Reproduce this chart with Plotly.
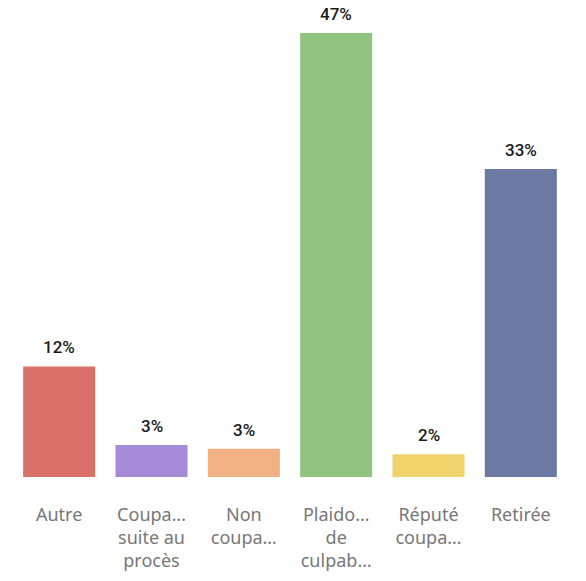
import plotly.graph_objects as go

categories = ["Autre", "Coupa…<br>suite au<br>procès", "Non<br>coupa…", "Plaido…<br>de<br>culpab…", "Réputé<br>coupa…", "Retirée"]
values = [11.7, 3.4, 3.0, 47.0, 2.4, 32.6]
colors = ["#D9706A", "#A68BD9", "#F1B183", "#91C57F", "#F1D36B", "#6C79A3"]

fig = go.Figure(go.Bar(
    x=categories, y=values,
    marker=dict(color=colors, line=dict(width=0)),
))
for c, v in zip(categories, values):
    fig.add_annotation(x=c, y=v, text=f"{v:.0f}%", showarrow=False,
                       yanchor="bottom", yshift=7,
                       font=dict(family="Roboto", size=17, color="#1a1a1a", weight=500))
fig.update_layout(
    width=586, height=581,
    margin=dict(l=13, r=19, t=10, b=104),
    paper_bgcolor="white", plot_bgcolor="white",
    bargap=0.22, showlegend=False,
    xaxis=dict(tickfont=dict(family="Noto Sans", size=18, color="#777777"),
               ticks="outside", ticklen=21, tickcolor="white", showline=False,
               showgrid=False, automargin=False),
    yaxis=dict(range=[0, 49.43], visible=False, automargin=False),
)
fig.write_html("out.html", config={"responsive": False, "displayModeBar": False},
               post_script="document.body.style.margin='0';")
